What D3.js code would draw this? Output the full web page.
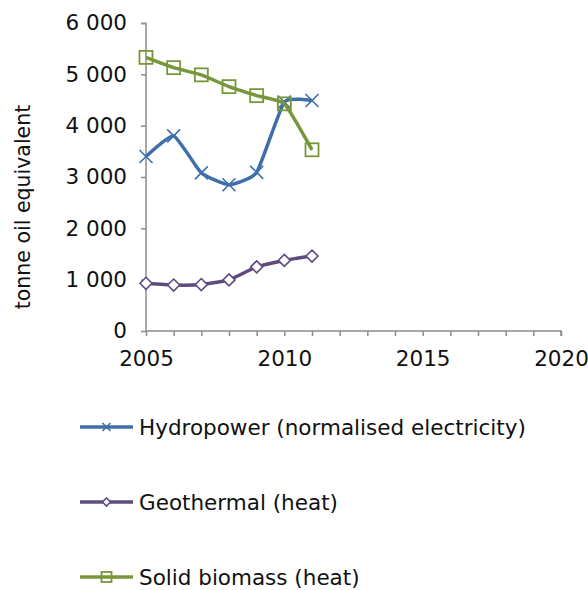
<!DOCTYPE html>
<html><head><meta charset="utf-8">
<script src="https://cdn.jsdelivr.net/npm/d3@7"></script>
<style>
body{margin:0;background:#fff;}
text{font-family:"DejaVu Sans",Verdana,sans-serif;fill:#111;}
</style></head>
<body><svg id="c" width="588" height="590"></svg>
<script>
const years = [2005, 2006, 2007, 2008, 2009, 2010, 2011];
const hydropower = [3400, 3800, 3080, 2850, 3090, 4460, 4490];
const geothermal = [930, 895, 905, 995, 1250, 1375, 1460];
const solidBiomass = [5330, 5130, 4990, 4760, 4585, 4425, 3530];
const yTicks = [0, 1000, 2000, 3000, 4000, 5000, 6000];
const xTickLabels = [2005, 2010, 2015, 2020];
const seriesNames = ["Hydropower (normalised electricity)", "Geothermal (heat)", "Solid biomass (heat)"];

const svg = d3.select("#c");
const x = d3.scaleLinear().domain([2005, 2020]).range([146, 561]);
const y = d3.scaleLinear().domain([0, 6000]).range([331, 23]);
const fmt = v => d3.format(",")(v).replace(/,/g, " ");

// y axis
const ya = svg.append("g").attr("transform", "translate(146,0)")
  .call(d3.axisLeft(y).tickValues(yTicks).tickSize(5).tickPadding(14).tickFormat(fmt));
ya.selectAll("text").style("font-size", "21.5px");
// x axis
const xa = svg.append("g").attr("transform", "translate(0,331)")
  .call(d3.axisBottom(x).tickValues(d3.range(2005, 2021)).tickSize(5).tickPadding(15)
    .tickFormat(d => xTickLabels.includes(d) ? d : ""));
xa.selectAll("text").style("font-size", "21.5px");
svg.selectAll(".domain").attr("stroke", "#8c8c8c").attr("stroke-width", 1.5);
svg.selectAll(".tick line").attr("stroke", "#8c8c8c").attr("stroke-width", 1.5);
ya.select(".domain").attr("d", "M-5,23.5H0V331");
xa.select(".domain").attr("d", "M146,0H561V5");

svg.append("text").attr("transform", "translate(30,207) rotate(-90)")
  .attr("text-anchor", "middle").style("font-size", "20.5px").text("tonne oil equivalent");

const series = [
  {name: seriesNames[0], values: hydropower, color: "#3f6faa", marker: "x"},
  {name: seriesNames[1], values: geothermal, color: "#5f4b7f", marker: "diamond"},
  {name: seriesNames[2], values: solidBiomass, color: "#77973a", marker: "square"}
];
const line = d3.line().x((d, i) => x(years[i])).y(d => y(d)).curve(d3.curveCardinal.tension(0.55));

function drawMarker(g, type, cx, cy, color, s) {
  if (type === "x") {
    g.append("path").attr("d", `M${cx-s},${cy-s}L${cx+s},${cy+s}M${cx-s},${cy+s}L${cx+s},${cy-s}`)
      .attr("stroke", color).attr("stroke-width", 1.6).attr("fill", "none");
  } else if (type === "diamond") {
    g.append("path").attr("d", `M${cx},${cy-s}L${cx+s},${cy}L${cx},${cy+s}L${cx-s},${cy}Z`)
      .attr("stroke", color).attr("stroke-width", 1.6).attr("fill", "#fff");
  } else {
    g.append("rect").attr("x", cx - s).attr("y", cy - s).attr("width", 2 * s).attr("height", 2 * s)
      .attr("stroke", color).attr("stroke-width", 1.8).attr("fill", "none");
  }
}

series.forEach(s => {
  const g = svg.append("g");
  g.append("path").attr("d", line(s.values)).attr("fill", "none")
    .attr("stroke", s.color).attr("stroke-width", 3.5).attr("stroke-linejoin", "round");
  s.values.forEach((v, i) => {
    const size = s.marker === "x" ? 6.5 : (s.marker === "diamond" ? 6 : 6.5);
    drawMarker(g, s.marker, x(years[i]), y(v), s.color, size);
  });
});

// legend
const legY = [427, 502, 577];
series.forEach((s, i) => {
  const g = svg.append("g");
  g.append("line").attr("x1", 80).attr("x2", 133).attr("y1", legY[i]).attr("y2", legY[i])
    .attr("stroke", s.color).attr("stroke-width", 3.5);
  drawMarker(g, s.marker, 106.5, legY[i], s.color, s.marker === "square" ? 5 : 4);
  g.append("text").attr("x", 139).attr("y", legY[i] + 8).style("font-size", "21.5px").text(s.name);
});
</script></body></html>
